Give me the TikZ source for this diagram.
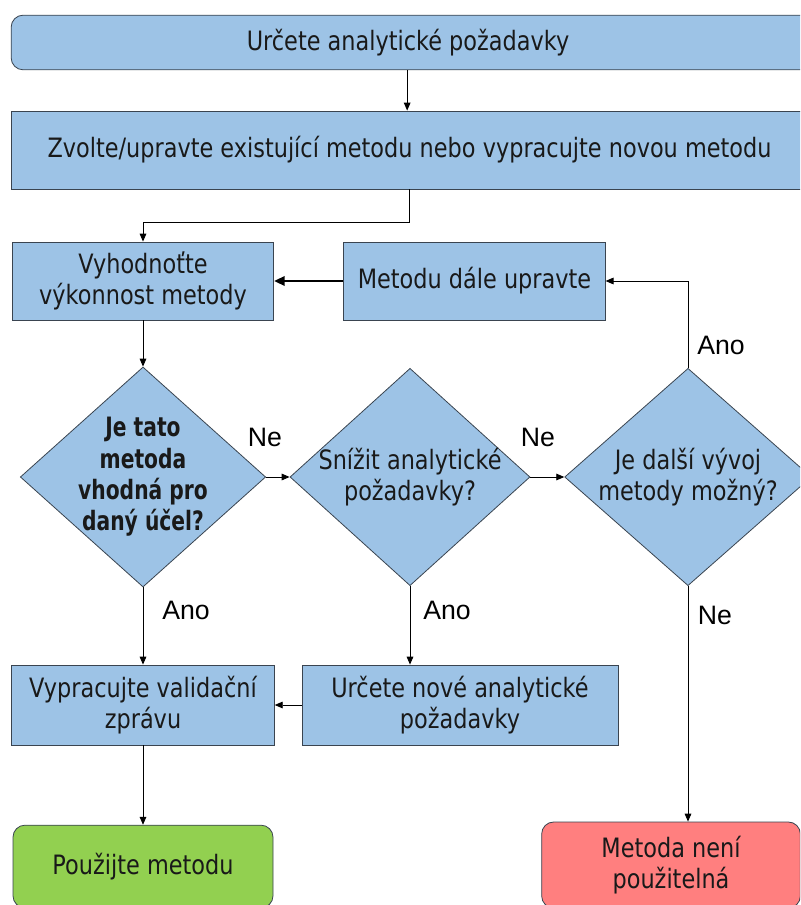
\documentclass[tikz,border=0pt]{standalone}
\usepackage{fontspec}
\setmainfont{DejaVu Sans}[FakeStretch=0.84,BoldFeatures={FakeStretch=0.76}]
\newfontfamily\labelfont{Liberation Sans}
\usetikzlibrary{arrows.meta,shapes.geometric}
\definecolor{boxblue}{HTML}{9DC3E6}
\definecolor{boxgreen}{HTML}{92D050}
\definecolor{boxred}{HTML}{FF7F7F}
\definecolor{edgegray}{HTML}{3A4450}
\begin{document}
\begin{tikzpicture}[x=0.75pt,y=-0.75pt,
    font=\fontsize{20}{23.5}\selectfont,
    box/.style={draw=edgegray,line width=0.6pt,fill=boxblue,align=center,text=black!90,inner sep=2pt},
    endbox/.style={box,rounded corners=9pt},
    decision/.style={box,diamond,inner sep=-40pt,minimum width=184pt,minimum height=165pt},
    flow/.style={-{Triangle[length=6pt,width=5pt]},line width=0.7pt},
    answer/.style={font=\labelfont\fontsize{20}{24}\selectfont}]
    \useasboundingbox (0,0) rectangle (800,905);
    \clip (0,0) rectangle (800,905);

    % upper part
    \node[endbox,minimum width=605pt,minimum height=41pt] (req) at (414.5,42.5) {Určete analytické požadavky\hspace*{9.75pt}};
    \node[box,minimum width=605pt,minimum height=58.5pt] (choose) at (414.5,150) {Zvolte/upravte existující metodu nebo vypracujte novou metodu\hspace*{7.5pt}};
    \node[box,minimum width=196pt,minimum height=58.5pt] (eval) at (143,281) {Vyhodnoťte\\výkonnost metody};
    \node[box,minimum width=196pt,minimum height=58.5pt] (adjust) at (474.5,281) {Metodu dále upravte};

    % decisions
    \node[decision] (fit) at (143,477) {\bfseries Je tato\\\bfseries metoda\\\bfseries vhodná pro\\\bfseries daný účel?};
    \node[decision,minimum width=180pt,minimum height=163pt] (lower) at (410,477) {Snížit analytické\\požadavky?};
    \node[decision,minimum width=185pt,minimum height=163pt] (further) at (688,477) {Je další vývoj\\metody možný?};

    % lower part
    \node[box,minimum width=197pt,minimum height=60pt] (report) at (143,705) {Vypracujte validační\\zprávu};
    \node[box,minimum width=237pt,minimum height=60pt] (newreq) at (460,705) {Určete nové analytické\\požadavky};
    \node[endbox,fill=boxgreen,minimum width=195pt,minimum height=62pt] (use) at (143,866.5) {Použijte metodu};
    \node[endbox,fill=boxred,minimum width=194pt,minimum height=64.5pt] (reject) at (671,865) {Metoda není\\použitelná};

    % answers
    \foreach \x/\y/\t [count=\i] in {265/437/Ne, 538/437/Ne, 721/345/Ano, 186/610/Ano, 447/610/Ano, 715/615/Ne}
        \node[answer] (ans\i) at (\x,\y) {\t};

    % connectors
    \draw[flow] ([xshift=-5.5pt]req.south) -- ([xshift=-5.5pt]choose.north);
    \draw[flow] ([xshift=-3.5pt]choose.south) -- ++(0,33) -| (eval.north);
    \draw[-{Triangle[length=8pt,width=7pt]},line width=1.8pt] (adjust.west) -- (eval.east);
    \draw[flow] (eval.south) -- (fit.north);
    \draw[flow] (fit.east) -- (lower.west);
    \draw[flow] (lower.east) -- (further.west);
    \draw[flow] (further.north) |- (adjust.east);
    \draw[flow] (further.south) -- (further.south |- reject.north);
    \draw[flow] (fit.south) -- (report.north);
    \draw[flow] (lower.south) -- (lower.south |- newreq.north);
    \draw[flow] (newreq.west) -- (report.east);
    \draw[flow] (report.south) -- (use.north);
\end{tikzpicture}
\end{document}
